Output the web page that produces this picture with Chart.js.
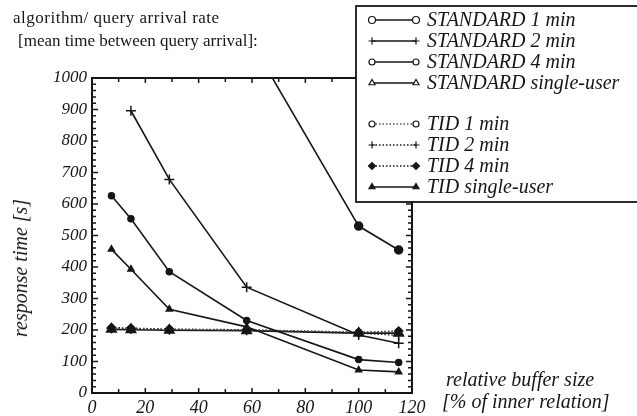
<!DOCTYPE html>
<html>
<head>
<meta charset="utf-8">
<script src="https://cdn.jsdelivr.net/npm/chart.js@4.4.1/dist/chart.umd.min.js"></script>
<style>
body{margin:0;background:#fff;}
#wrap{position:relative;width:637px;height:416px;overflow:hidden;}
#c{position:absolute;left:0;top:0;}
.t{position:absolute;font-family:"Liberation Serif","DejaVu Serif",serif;color:#161616;white-space:nowrap;line-height:1;}
.it{font-style:italic;}
</style>
</head>
<body>
<div id="wrap">
<canvas id="c" width="637" height="416"></canvas>
<div class="t" style="left:13px;top:9px;font-size:17px;letter-spacing:0.5px">algorithm/ query arrival rate</div>
<div class="t" style="left:18px;top:32px;font-size:17px">[mean time between query arrival]:</div>
<div class="t it" style="left:20px;top:268px;font-size:20px;transform:translate(-50%,-50%) rotate(-90deg)">response time [s]</div>
<div class="t it" style="left:446px;top:369px;font-size:20px">relative buffer size</div>
<div class="t it" style="left:442px;top:391px;font-size:20px">[% of inner relation]</div>
</div>
<script>
// buffer size in % of inner relation
const bufferSize = [7.3, 14.6, 29, 58, 100, 115];

// response times [s]
const std1min = [null, null, null, 1140, 530, 454];
const std2min = [null, 896, 678, 336, 184, 158];
const std4min = [626, 553, 385, 230, 106, 97];
const stdSingle = [456, 393, 266, 210, 73, 67];
const tid1min = [205, 204, 202, 200, 193, 195];
const tid2min = [205, 203, 201, 199, 190, 183];
const tid4min = [208, 206, 203, 201, 193, 197];
const tidSingle = [202, 201, 199, 198, 190, 190];

const seriesNames = [
    "STANDARD 1 min", "STANDARD 2 min", "STANDARD 4 min", "STANDARD single-user",
    "TID 1 min", "TID 2 min", "TID 4 min", "TID single-user"
];

const yTicks = [0, 100, 200, 300, 400, 500, 600, 700, 800, 900, 1000];
const xTicks = [0, 20, 40, 60, 80, 100, 120];

const ink = "#161616";
const serif = "'Liberation Serif', 'DejaVu Serif', serif";

function pts(arr){
    return bufferSize.map((x, i) => ({x: x, y: arr[i]}));
}

function ds(name, arr, style, radius, dash, legendFill, lineColor){
    return {
        label: name,
        data: pts(arr),
        borderColor: lineColor || ink,
        borderWidth: dash.length ? 1.3 : 1.6,
        borderDash: dash,
        pointStyle: style,
        pointRadius: radius,
        pointBorderColor: ink,
        pointBackgroundColor: ink,
        pointBorderWidth: 1.5,
        legendFill: legendFill,
        fill: false,
        tension: 0
    };
}

const datasets = [
    ds(seriesNames[0], std1min, "circle", 4, [], "#fff"),
    ds(seriesNames[1], std2min, "cross", 5, [], "#fff"),
    ds(seriesNames[2], std4min, "circle", 3, [], "#fff"),
    ds(seriesNames[3], stdSingle, "triangle", 3.5, [], "#fff"),
    ds(seriesNames[4], tid1min, "circle", 3, [1.5, 2], "#fff", "#555"),
    ds(seriesNames[5], tid2min, "cross", 5, [1.5, 2], "#fff"),
    ds(seriesNames[6], tid4min, "rectRot", 4, [1.5, 2], ink),
    ds(seriesNames[7], tidSingle, "triangle", 5.5, [], ink)
];

// frame with inward ticks on all four sides
const framePlugin = {
    id: "frame",
    afterDraw(chart){
        const ctx = chart.ctx;
        const a = chart.chartArea;
        const xs = chart.scales.x;
        const ys = chart.scales.y;
        ctx.save();
        ctx.strokeStyle = ink;
        ctx.lineWidth = 2;
        ctx.strokeRect(a.left, a.top, a.right - a.left, a.bottom - a.top);
        ctx.lineWidth = 1.5;
        ctx.beginPath();
        for(let v = 10; v < 120; v += 10){
            const px = xs.getPixelForValue(v);
            const len = v % 20 === 0 ? 5 : 4;
            ctx.moveTo(px, a.bottom); ctx.lineTo(px, a.bottom - len);
            ctx.moveTo(px, a.top); ctx.lineTo(px, a.top + len);
        }
        for(let v = 20; v < 1000; v += 20){
            const py = ys.getPixelForValue(v);
            const len = v % 100 === 0 ? 6 : 4;
            ctx.moveTo(a.left, py); ctx.lineTo(a.left + len, py);
            ctx.moveTo(a.right, py); ctx.lineTo(a.right - len, py);
        }
        ctx.stroke();
        ctx.restore();
    }
};

// boxed legend at upper right
const legendRows = [20, 41, 62, 83, 124, 145, 166, 187];
const legendPlugin = {
    id: "boxLegend",
    afterDraw(chart){
        const ctx = chart.ctx;
        ctx.save();
        ctx.fillStyle = "#fff";
        ctx.fillRect(356, 6, 290, 196);
        ctx.strokeStyle = ink;
        ctx.lineWidth = 1.8;
        ctx.strokeRect(356, 6, 290, 196);
        chart.data.datasets.forEach((d, i) => {
            const y = legendRows[i];
            ctx.strokeStyle = d.borderColor;
            ctx.lineWidth = d.borderWidth;
            ctx.setLineDash(d.borderDash);
            ctx.beginPath();
            ctx.moveTo(372, y); ctx.lineTo(416, y);
            ctx.stroke();
            ctx.setLineDash([]);
            ctx.strokeStyle = ink;
            ctx.fillStyle = d.legendFill;
            ctx.lineWidth = 1.2;
            const r = Math.min(d.pointRadius, 3.5);
            [372, 416].forEach(px => {
                Chart.helpers.drawPoint(ctx, {pointStyle: d.pointStyle, radius: r, rotation: 0, borderWidth: 1.2}, px, y);
            });
            ctx.fillStyle = ink;
            ctx.font = "italic 20px " + serif;
            ctx.textBaseline = "middle";
            ctx.fillText(d.label, 427, y + 1);
        });
        ctx.restore();
    }
};

new Chart(document.getElementById("c"), {
    type: "line",
    data: {datasets: datasets},
    options: {
        responsive: false,
        animation: false,
        devicePixelRatio: 1,
        layout: {padding: {left: 0, right: 225, top: 78, bottom: 0}},
        plugins: {legend: {display: false}, tooltip: {enabled: false}},
        scales: {
            x: {
                type: "linear",
                min: 0,
                max: 120,
                afterFit: s => { s.height = 23; },
                afterBuildTicks: s => { s.ticks = xTicks.map(v => ({value: v})); },
                grid: {display: false, drawTicks: false},
                border: {display: false},
                ticks: {
                    padding: 4,
                    color: ink,
                    callback: v => String(v),
                    font: {family: serif, size: 18, style: "italic"}
                }
            },
            y: {
                min: 0,
                max: 1000,
                afterFit: s => { s.width = 92; },
                afterBuildTicks: s => { s.ticks = yTicks.map(v => ({value: v})); },
                grid: {display: false, drawTicks: false},
                border: {display: false},
                ticks: {
                    padding: 5,
                    color: ink,
                    callback: v => String(v),
                    font: {family: serif, size: 17, style: "italic"}
                }
            }
        }
    },
    plugins: [framePlugin, legendPlugin]
});
</script>
</body>
</html>
